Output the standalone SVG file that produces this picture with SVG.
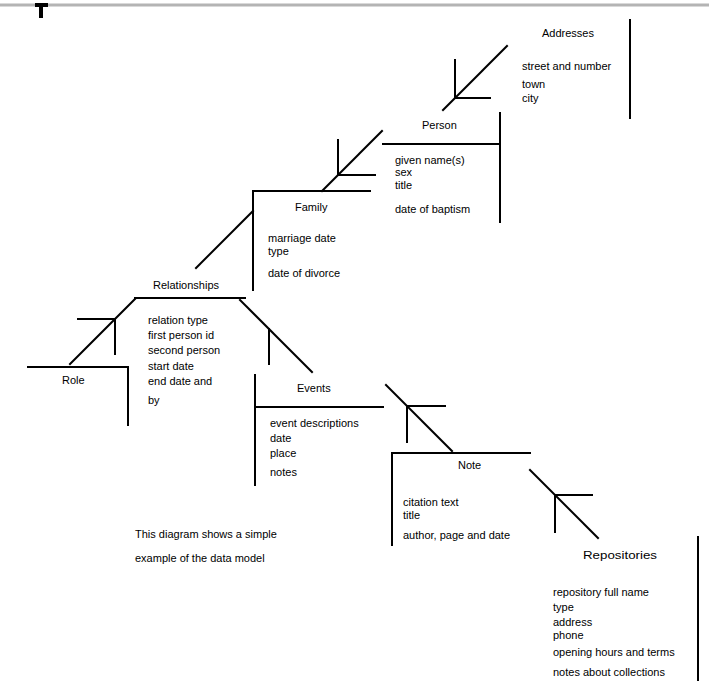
<svg xmlns="http://www.w3.org/2000/svg" width="709" height="692" viewBox="0 0 709 692">
<style>
.ln{stroke:#000;stroke-width:2;fill:none;stroke-linecap:square}
.t{font-family:"Liberation Sans",Arial,sans-serif;font-size:11px;fill:#000}
</style>
<rect width="709" height="692" fill="#fff"/>
<g id="topbar">
<line x1="0" y1="5" x2="709" y2="5" stroke="#b4b4b4" stroke-width="3"/>
<path d="M35 5H48M41 5V18" stroke="#000" stroke-width="4" fill="none"/>
</g>
<g id="connectors">
<line class="ln" x1="507" y1="46" x2="443" y2="110"/>
<path class="ln" d="M455 60V98H490"/>
<line class="ln" x1="382" y1="131" x2="322" y2="191"/>
<path class="ln" d="M338 140V175H375"/>
<line class="ln" x1="253" y1="211" x2="196" y2="268"/>
<line class="ln" x1="135" y1="299" x2="70" y2="364"/>
<path class="ln" d="M78 319H115V354"/>
<line class="ln" x1="240" y1="300" x2="312" y2="372"/>
<line class="ln" x1="269" y1="329" x2="269" y2="364"/>
<line class="ln" x1="386" y1="385" x2="452" y2="451"/>
<path class="ln" d="M445 406H407V442"/>
<line class="ln" x1="530" y1="470" x2="598" y2="538"/>
<path class="ln" d="M592 495H555V532"/>
</g>
<g id="address">
<text class="t" x="542" y="37">Addresses</text>
<line class="ln" x1="630" y1="20" x2="630" y2="118"/>
<text class="t" x="522" y="70">street and number</text>
<text class="t" x="522" y="88">town</text>
<text class="t" x="522" y="102">city</text>
</g>
<g id="person">
<text class="t" x="422" y="129">Person</text>
<path class="ln" d="M383 144H500M500 113V222"/>
<text class="t" x="395" y="164">given name(s)</text>
<text class="t" x="395" y="176">sex</text>
<text class="t" x="395" y="189">title</text>
<text class="t" x="395" y="213">date of baptism</text>
</g>
<g id="family">
<text class="t" x="295" y="211">Family</text>
<path class="ln" d="M253 191H370M253 191V290"/>
<text class="t" x="268" y="242">marriage date</text>
<text class="t" x="268" y="255">type</text>
<text class="t" x="268" y="277">date of divorce</text>
</g>
<g id="relationship">
<text class="t" x="153" y="289">Relationships</text>
<line class="ln" x1="135" y1="298" x2="245" y2="298"/>
<text class="t" x="148" y="324">relation type</text>
<text class="t" x="148" y="339">first person id</text>
<text class="t" x="148" y="354">second person</text>
<text class="t" x="148" y="370">start date</text>
<text class="t" x="148" y="385">end date and</text>
<text class="t" x="148" y="404">by</text>
</g>
<g id="role">
<text class="t" x="62" y="384">Role</text>
<path class="ln" d="M28 367H128V425"/>
</g>
<g id="event">
<text class="t" x="297" y="392">Events</text>
<path class="ln" d="M255 407H383M255 375V485"/>
<text class="t" x="270" y="427">event descriptions</text>
<text class="t" x="270" y="442">date</text>
<text class="t" x="270" y="457">place</text>
<text class="t" x="270" y="476">notes</text>
</g>
<g id="note">
<text class="t" x="458" y="469">Note</text>
<path class="ln" d="M392 453H530M392 453V545"/>
<text class="t" x="403" y="506">citation text</text>
<text class="t" x="403" y="519">title</text>
<text class="t" x="403" y="539">author, page and date</text>
</g>
<g id="repository">
<text class="t" x="583" y="559" textLength="74" lengthAdjust="spacingAndGlyphs">Repositories</text>
<line class="ln" x1="698" y1="537" x2="698" y2="680"/>
<text class="t" x="553" y="596">repository full name</text>
<text class="t" x="553" y="611">type</text>
<text class="t" x="553" y="626">address</text>
<text class="t" x="553" y="639">phone</text>
<text class="t" x="553" y="656">opening hours and terms</text>
<text class="t" x="553" y="676">notes about collections</text>
</g>
<g id="caption">
<text class="t" x="135" y="538">This diagram shows a simple</text>
<text class="t" x="135" y="562">example of the data model</text>
</g>
</svg>
